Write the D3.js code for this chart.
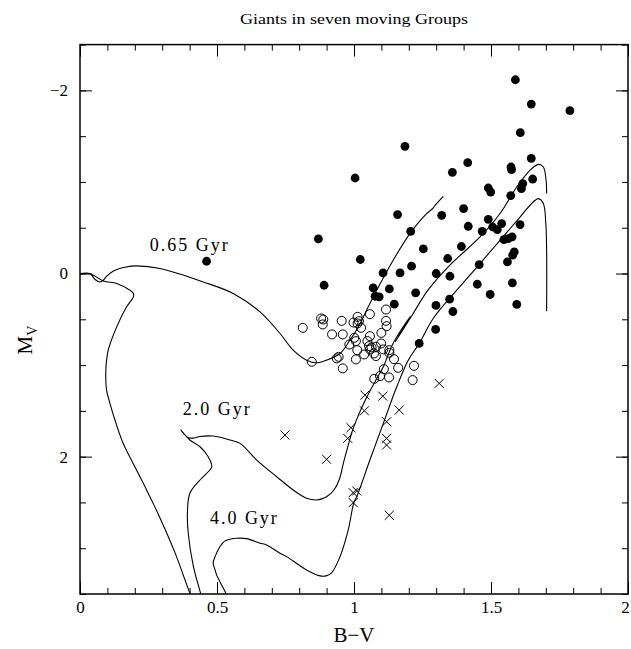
<!DOCTYPE html>
<html>
<head>
<meta charset="utf-8">
<script src="https://cdn.jsdelivr.net/npm/d3@7"></script>
<style>
  body { margin: 0; background: #fff; }
  text { font-family: "Liberation Serif", "DejaVu Serif", serif; fill: #000; }
</style>
</head>
<body>
<svg id="chart" width="631" height="649"></svg>
<script>
// ---- axis ticks ----
const xMajorTicks = [0, 0.5, 1, 1.5, 2];
const xMajorLabels = ["0", "0.5", "1", "1.5", "2"];
const xMinorTicks = d3.range(0, 2.001, 0.1);
const yMajorTicks = [-2, 0, 2];
const yMajorLabels = ["\u22122", "0", "2"];
const yMinorTicks = d3.range(-2.5, 3.501, 0.5);

// ---- stars: filled circles ----
const filledBV = [1.589, 1.647, 1.788, 1.607, 1.647, 1.415, 1.359, 1.573, 1.575, 1.652,
  1.616, 1.611, 1.490, 1.499, 1.572, 1.186, 1.004, 1.159, 1.320, 1.400,
  1.490, 1.539, 1.506, 1.523, 1.606, 1.417, 1.468, 1.207, 0.870, 1.547,
  1.563, 1.577, 1.392, 1.253, 1.585, 1.579, 1.023, 1.342, 1.560, 1.457,
  1.210, 1.106, 1.168, 1.300, 1.350, 0.891, 1.450, 1.578, 1.070, 1.129,
  1.225, 1.497, 1.077, 1.092, 1.349, 1.147, 1.299, 1.594, 1.361, 1.298,
  1.238, 0.462];
const filledMV = [-2.116, -1.850, -1.778, -1.538, -1.258, -1.210, -1.105, -1.163, -1.134, -1.032,
  -0.982, -0.927, -0.934, -0.890, -0.851, -1.389, -1.043, -0.644, -0.636, -0.709,
  -0.592, -0.545, -0.508, -0.480, -0.534, -0.516, -0.461, -0.461, -0.378, -0.371,
  -0.382, -0.400, -0.295, -0.269, -0.236, -0.200, -0.153, -0.164, -0.127, -0.098,
  -0.080, -0.007, -0.007, 0.000, 0.030, 0.128, 0.117, 0.102, 0.157, 0.168,
  0.211, 0.229, 0.248, 0.255, 0.280, 0.335, 0.349, 0.338, 0.415, 0.611,
  0.764, -0.134];

// ---- stars: open circles ----
const openBV = [0.813, 0.880, 0.888, 0.886, 0.955, 0.920, 0.959, 0.998, 1.013, 1.018,
  1.013, 1.058, 1.117, 1.117, 1.119, 1.026, 1.100, 1.058, 1.001, 1.007,
  0.983, 1.049, 1.055, 1.064, 1.058, 1.080, 1.099, 1.107, 1.129, 1.129,
  1.012, 1.037, 1.073, 1.080, 1.007, 0.944, 0.937, 0.846, 0.959, 1.146,
  1.161, 1.219, 1.109, 1.095, 1.128, 1.074, 1.214];
const openMV = [0.593, 0.491, 0.502, 0.556, 0.517, 0.665, 0.665, 0.535, 0.473, 0.520,
  0.545, 0.444, 0.393, 0.517, 0.575, 0.593, 0.648, 0.684, 0.702, 0.738,
  0.775, 0.738, 0.793, 0.807, 0.829, 0.800, 0.764, 0.829, 0.837, 0.866,
  0.837, 0.884, 0.873, 0.902, 0.938, 0.910, 0.927, 0.964, 1.036, 0.935,
  1.030, 1.008, 1.044, 1.120, 1.135, 1.150, 1.164];

// ---- stars: crosses ----
const crossBV = [1.040, 1.105, 1.311, 1.038, 1.165, 0.989, 1.119, 0.977, 1.119, 1.119,
  0.900, 0.997, 1.010, 0.997, 1.129, 0.748];
const crossMV = [1.328, 1.339, 1.200, 1.499, 1.491, 1.684, 1.619, 1.800, 1.800, 1.873,
  2.029, 2.393, 2.375, 2.502, 2.640, 1.764];

// ---- isochrones: [B-V, M_V] from lower main sequence to giant tip ----
const iso065 = [[0.412, 3.563], [0.401, 3.491], [0.347, 3.051], [0.292, 2.669], [0.255, 2.437],
  [0.231, 2.291], [0.193, 2.069], [0.157, 1.851], [0.131, 1.633], [0.109, 1.415],
  [0.097, 1.273], [0.094, 1.091], [0.097, 0.946], [0.103, 0.837], [0.134, 0.583],
  [0.170, 0.364], [0.195, 0.255], [0.195, 0.218], [0.182, 0.182], [0.134, 0.109],
  [0.085, 0.081], [0.049, 0.019], [0.029, 0.000], [0.000, 0.000], [0.036, 0.000],
  [0.055, 0.065], [0.073, 0.092], [0.085, 0.073], [0.095, 0.037], [0.122, -0.028],
  [0.164, -0.069], [0.207, -0.083], [0.292, -0.055], [0.450, 0.092], [0.559, 0.218],
  [0.657, 0.419], [0.730, 0.655], [0.778, 0.837], [0.827, 0.946], [0.864, 0.975],
  [0.900, 0.946], [0.949, 0.873], [0.985, 0.728], [1.016, 0.583], [1.046, 0.400],
  [1.083, 0.182], [1.143, -0.145], [1.204, -0.436], [1.265, -0.655], [1.288, -0.712],
  [1.296, -0.745], [1.326, -0.843]];
const iso20 = [[0.445, 3.550], [0.440, 3.491], [0.414, 3.201], [0.395, 2.836], [0.392, 2.618],
  [0.401, 2.400], [0.438, 2.255], [0.474, 2.146], [0.481, 2.110], [0.468, 2.001],
  [0.438, 1.892], [0.401, 1.818], [0.368, 1.709], [0.394, 1.791], [0.416, 1.797],
  [0.438, 1.780], [0.486, 1.775], [0.547, 1.818], [0.584, 1.855], [0.645, 2.037],
  [0.718, 2.219], [0.778, 2.364], [0.827, 2.454], [0.864, 2.473], [0.900, 2.437],
  [0.927, 2.364], [0.947, 2.244], [0.961, 2.073], [0.978, 1.884], [0.995, 1.709],
  [1.015, 1.557], [1.036, 1.415], [1.060, 1.273], [1.084, 1.142], [1.107, 1.019],
  [1.142, 0.766], [1.206, 0.466], [1.150, 0.749], [1.212, 0.455], [1.270, 0.182],
  [1.350, -0.091], [1.460, -0.399], [1.533, -0.655], [1.594, -0.945], [1.642, -1.127],
  [1.673, -1.192], [1.691, -1.163], [1.701, -1.018], [1.703, -0.873]];
const iso40 = [[0.540, 3.563], [0.532, 3.491], [0.500, 3.302], [0.493, 3.237], [0.486, 3.160],
  [0.493, 3.092], [0.511, 2.982], [0.529, 2.920], [0.547, 2.902], [0.572, 2.891],
  [0.608, 2.895], [0.657, 2.945], [0.681, 2.964], [0.730, 3.054], [0.754, 3.092],
  [0.827, 3.237], [0.876, 3.302], [0.898, 3.302], [0.919, 3.266], [0.949, 3.092],
  [0.979, 2.800], [1.000, 2.495], [1.010, 2.437], [1.058, 2.037], [1.107, 1.636],
  [1.156, 1.237], [1.198, 0.946], [1.239, 0.760], [1.289, 0.491], [1.375, 0.182],
  [1.460, -0.109], [1.533, -0.363], [1.606, -0.617], [1.654, -0.781], [1.673, -0.818],
  [1.691, -0.764], [1.700, -0.545], [1.703, -0.254], [1.703, 0.411]];

const isoLabels = [
  { text: "0.65 Gyr", bv: 0.255, mv: -0.25 },
  { text: "2.0 Gyr", bv: 0.375, mv: 1.55 },
  { text: "4.0 Gyr", bv: 0.474, mv: 2.74 }
];

// ---- layout ----
const svg = d3.select("#chart");
const plotL = 80, plotR = 628, plotT = 44.6, plotB = 594;
const x = d3.scaleLinear().domain([0, 2]).range([plotL, plotR]);
const y = d3.scaleLinear().domain([-2.5, 3.5]).range([plotT, plotB]);

svg.append("defs").append("clipPath").attr("id", "plotClip")
  .append("rect").attr("x", plotL).attr("y", plotT)
  .attr("width", plotR - plotL).attr("height", plotB - plotT);

// title
svg.append("text").attr("x", 354).attr("y", 24)
  .attr("text-anchor", "middle").attr("font-size", 15.5)
  .attr("textLength", 228).attr("lengthAdjust", "spacingAndGlyphs")
  .text("Giants in seven moving Groups");

// ---- axes with inward ticks on all four sides ----
const tickStyle = g => g.call(s => s.select(".domain").remove())
  .call(s => s.selectAll("line").attr("stroke", "#000").attr("stroke-width", 1));

svg.append("g").attr("transform", `translate(0,${plotB})`)
  .call(d3.axisBottom(x).tickValues(xMinorTicks).tickSize(-6).tickFormat(""))
  .call(tickStyle);
svg.append("g").attr("transform", `translate(0,${plotB})`)
  .call(d3.axisBottom(x).tickValues(xMajorTicks).tickSize(-12).tickPadding(7)
    .tickFormat((d, i) => xMajorLabels[i]))
  .call(tickStyle)
  .call(g => g.selectAll("text").attr("font-size", 17)
    .attr("x", d => d === 2 ? -3 : 0)
    .style("font-family", '"Liberation Serif", serif'));
svg.append("g").attr("transform", `translate(0,${plotT})`)
  .call(d3.axisTop(x).tickValues(xMinorTicks).tickSize(-6).tickFormat(""))
  .call(tickStyle);
svg.append("g").attr("transform", `translate(0,${plotT})`)
  .call(d3.axisTop(x).tickValues(xMajorTicks).tickSize(-12).tickFormat(""))
  .call(tickStyle);

svg.append("g").attr("transform", `translate(${plotL},0)`)
  .call(d3.axisLeft(y).tickValues(yMinorTicks).tickSize(-6).tickFormat(""))
  .call(tickStyle);
svg.append("g").attr("transform", `translate(${plotL},0)`)
  .call(d3.axisLeft(y).tickValues(yMajorTicks).tickSize(-12).tickPadding(12)
    .tickFormat((d, i) => yMajorLabels[i]))
  .call(tickStyle)
  .call(g => g.selectAll("text").attr("font-size", 17)
    .style("font-family", '"Liberation Serif", serif'));
svg.append("g").attr("transform", `translate(${plotR},0)`)
  .call(d3.axisRight(y).tickValues(yMinorTicks).tickSize(-6).tickFormat(""))
  .call(tickStyle);
svg.append("g").attr("transform", `translate(${plotR},0)`)
  .call(d3.axisRight(y).tickValues(yMajorTicks).tickSize(-12).tickFormat(""))
  .call(tickStyle);

// frame
svg.append("rect").attr("x", plotL).attr("y", plotT)
  .attr("width", plotR - plotL).attr("height", plotB - plotT)
  .attr("fill", "none").attr("stroke", "#000").attr("stroke-width", 1.5);

// axis titles
svg.append("text").attr("x", 354).attr("y", 642).attr("text-anchor", "middle")
  .attr("font-size", 21).text("B\u2212V");
const yTitle = svg.append("text")
  .attr("transform", "translate(32,340) rotate(-90)")
  .attr("text-anchor", "middle").attr("font-size", 21);
yTitle.append("tspan").text("M");
yTitle.append("tspan").attr("font-size", 14).attr("dy", 5).text("V");

// ---- isochrones ----
const plot = svg.append("g").attr("clip-path", "url(#plotClip)");
const line = d3.line().x(d => x(d[0])).y(d => y(d[1]))
  .curve(d3.curveCatmullRom.alpha(0.5));
[iso065, iso20, iso40].forEach(iso => {
  plot.append("path").datum(iso).attr("d", line)
    .attr("fill", "none").attr("stroke", "#000").attr("stroke-width", 1.1);
});

svg.selectAll("text.iso").data(isoLabels).join("text").attr("class", "iso")
  .attr("x", d => x(d.bv)).attr("y", d => y(d.mv))
  .attr("font-size", 18).attr("letter-spacing", 2)
  .text(d => d.text);

// ---- stars ----
plot.selectAll("circle.filled").data(filledBV.map((b, i) => [b, filledMV[i]]))
  .join("circle").attr("class", "filled")
  .attr("cx", d => x(d[0])).attr("cy", d => y(d[1])).attr("r", 4.4)
  .attr("fill", "#000");

plot.selectAll("circle.open").data(openBV.map((b, i) => [b, openMV[i]]))
  .join("circle").attr("class", "open")
  .attr("cx", d => x(d[0])).attr("cy", d => y(d[1])).attr("r", 4.5)
  .attr("fill", "none").attr("stroke", "#000").attr("stroke-width", 1);

const cross = d3.symbol().type(d3.symbolX).size(55);
plot.selectAll("path.cross").data(crossBV.map((b, i) => [b, crossMV[i]]))
  .join("path").attr("class", "cross")
  .attr("transform", d => `translate(${x(d[0])},${y(d[1])})`)
  .attr("d", cross).attr("fill", "none").attr("stroke", "#000").attr("stroke-width", 1);
</script>
</body>
</html>
